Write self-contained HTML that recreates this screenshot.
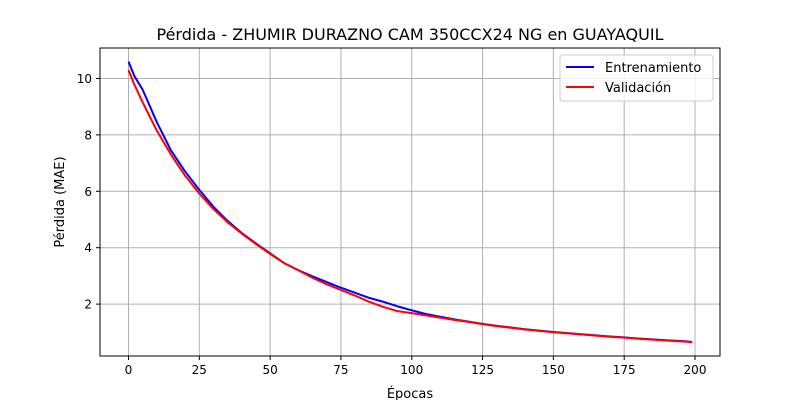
<!DOCTYPE html>
<html><head><meta charset="utf-8"><style>
body{margin:0;background:#fff;font-family:"DejaVu Sans","Liberation Sans",sans-serif}
svg text{font-family:"DejaVu Sans","Liberation Sans",sans-serif}
</style></head><body>
<svg id="chart" width="800" height="400" xmlns="http://www.w3.org/2000/svg">
<rect width="800" height="400" fill="#fff"/>
<g id="grid"></g><g id="ticks"></g><g id="series"></g>
<rect x="100" y="48" width="620" height="308" fill="none" stroke="#000" stroke-width="1"/>
<text x="410" y="40" font-size="16" text-anchor="middle">Pérdida - ZHUMIR DURAZNO CAM 350CCX24 NG en GUAYAQUIL</text>
<text x="410" y="398" font-size="13" text-anchor="middle">Épocas</text>
<text x="64" y="202" font-size="13" text-anchor="middle" transform="rotate(-90 64 202)">Pérdida (MAE)</text>
<g>
<rect x="560" y="55" width="153" height="46" fill="#fff" fill-opacity="0.8" stroke="#ccc" rx="3"/>
<g><line x1="566" y1="67" x2="594" y2="67" stroke="#0000ff" stroke-width="2"/><text x="605" y="72" font-size="13">Entrenamiento</text></g>
<g><line x1="566" y1="87" x2="594" y2="87" stroke="#ff0000" stroke-width="2"/><text x="605" y="92" font-size="13">Validación</text></g>
</g>
</svg>
<script>
const epochs=[0,2,5,10,15,20,25,30,35,40,45,50,55,60,65,70,75,80,85,90,95,100,105,110,115,120,125,130,135,140,145,150,155,160,165,170,175,180,185,190,195,199];
const trainLoss=[10.6,10.1,9.6,8.45,7.45,6.7,6.05,5.45,4.95,4.52,4.15,3.8,3.45,3.2,2.98,2.78,2.58,2.4,2.22,2.08,1.92,1.78,1.65,1.55,1.46,1.38,1.3,1.23,1.17,1.11,1.06,1.01,0.97,0.93,0.89,0.85,0.82,0.78,0.75,0.72,0.69,0.66];
const valLoss=[10.3,9.8,9.15,8.15,7.3,6.55,5.92,5.37,4.9,4.5,4.13,3.78,3.45,3.2,2.93,2.7,2.5,2.3,2.08,1.9,1.75,1.68,1.6,1.52,1.44,1.37,1.29,1.22,1.16,1.1,1.05,1.0,0.96,0.92,0.88,0.84,0.81,0.77,0.74,0.71,0.68,0.65];
const xTicks=[0,25,50,75,100,125,150,175,200];
const yTicks=[2,4,6,8,10];
const X=v=>128.5+v*(695-128.5)/200;
const Y=v=>360.5-v*(360.5-78.5)/10;
const NS="http://www.w3.org/2000/svg";
const grid=document.getElementById('grid'),ticks=document.getElementById('ticks'),series=document.getElementById('series');
function mk(t,a,p){const e=document.createElementNS(NS,t);for(const k in a)e.setAttribute(k,a[k]);p.appendChild(e);return e;}
xTicks.forEach(t=>{
const g=mk('line',{x1:X(t),x2:X(t),y1:48,y2:356,stroke:'#b0b0b0','stroke-width':1},grid);


mk('line',{x1:X(t),x2:X(t),y1:356,y2:360,stroke:'#000'},ticks);
const l=mk('text',{x:X(t),y:374,'font-size':12,'text-anchor':'middle'},ticks);l.textContent=t;


});
yTicks.forEach(t=>{
const g=mk('line',{x1:100,x2:720,y1:Y(t),y2:Y(t),stroke:'#b0b0b0','stroke-width':1},grid);


mk('line',{x1:96,x2:100,y1:Y(t),y2:Y(t),stroke:'#000'},ticks);
const l=mk('text',{x:92,y:Y(t)+4.5,'font-size':12,'text-anchor':'end'},ticks);l.textContent=t;


});
function line(vals,c,name){
const p=mk('polyline',{points:epochs.map((e,i)=>X(e)+','+Y(vals[i])).join(' '),fill:'none',stroke:c,'stroke-width':2,'stroke-linejoin':'round'},series);


}
line(trainLoss,'#0000ff','train-loss-line');
line(valLoss,'#ff0000','val-loss-line');
</script>
</body></html>
